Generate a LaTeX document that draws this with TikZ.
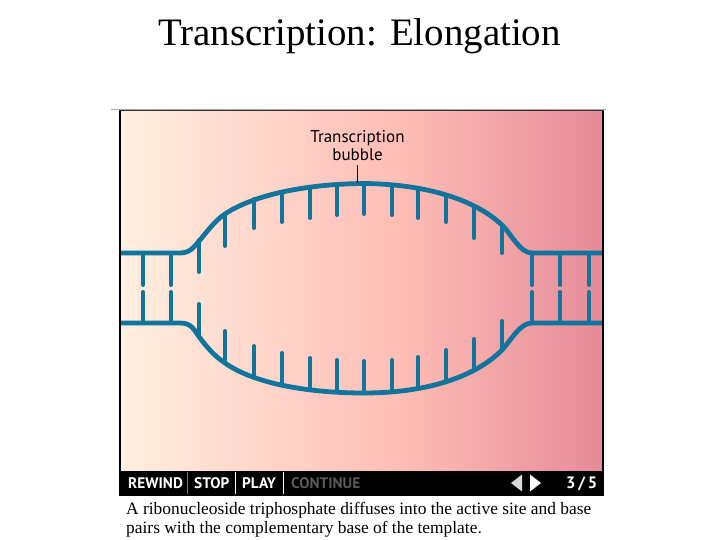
\documentclass[tikz,border=0pt]{standalone}
\usepackage{fontspec}
\setmainfont{Liberation Serif}
\newfontfamily\labelfont{PT Sans}
\newfontfamily\barfont{PT Sans}
\definecolor{strandc}{HTML}{10749C}
\definecolor{gradA}{HTML}{FFEFE0}
\definecolor{gradB}{HTML}{FFBDB5}
\definecolor{gradC}{HTML}{E58B99}
\tikzset{
  strand/.style={draw=strandc,line width=4.8pt,line cap=butt,line join=round},
  basetick/.style={draw=strandc,line width=4pt,line cap=round},
  ctl/.style={inner sep=0pt,anchor=base west,text=white,font=\barfont\bfseries\fontsize{15.3}{16}\selectfont},
  sep/.style={draw=white,line width=1pt},
}
\begin{document}
\begin{tikzpicture}[x=1pt,y=-1pt]
\useasboundingbox (0,0) rectangle (720,540);
\fill[white] (0,0) rectangle (720,540);
\node (title) at (359.5,36.5) {\fontsize{38.9}{42}\selectfont Transcription: Elongation};
\draw[black!35,line width=.8pt] (111,109.8) -- (606,109.8);
% panel
\shade[left color=gradA,right color=gradB] (120,111) rectangle (400,471);
\shade[left color=gradB,right color=gradC] (400,111) rectangle (602,471);
% strands
\draw[strand] (120,253) -- (180,253) .. controls (190,253) and (194,247) .. (200,240) .. controls (209,229) and (216,220) .. (225,214) .. controls (250,197) and (300,184) .. (364,183.5) .. controls (420,184) and (472,197) .. (502,225) .. controls (512,235) and (520,253) .. (532,253) -- (602,253);
\draw[strand] (120,323) -- (180,323) .. controls (192,323) and (194,330) .. (200,338) .. controls (209,350) and (216,357) .. (225,363) .. controls (250,381) and (300,393) .. (364,393) .. controls (420,393) and (472,380) .. (502,350) .. controls (512,339) and (520,323) .. (532,323) -- (602,323);
% upper ticks
\foreach \x/\a/\b in {143/253/285,171/253/285,199/240/272,225/214/246,254/199/228,282/192/222,310/187/218,337/185/215,364/184/214,392/185/215,418/188/218,446/195/222,474/206/238,502/226/253,532/253/285,560/253/285,589/253/285}
  \draw[basetick] (\x,\a) -- (\x,\b);
% lower ticks
\foreach \x/\a/\b in {143/292/323,171/292/323,199/304/337,225/331/363,254/346/378,282/353/385,310/358/390,337/360/392,364/361/393,392/360/392,418/357/388,446/350/381,474/339/369,502/321/349,532/292/323,560/292/323,589/292/323}
  \draw[basetick] (\x,\a) -- (\x,\b);
% frame
\draw[black,line width=2pt] (119.5,111) -- (119.5,472);
\draw[black,line width=2pt] (603,111) -- (603,472);
\draw[black!80,line width=1pt] (119,111) -- (604,111);
% label
\node[align=center,inner sep=0pt,font=\labelfont\fontsize{17}{18}\selectfont] (bubble) at (357.5,146) {Transcription\\bubble};
\coordinate (apex) at (357.5,183);
\draw[black,line width=.6pt] (357.5,165) -- (apex);
% control bar
\fill[black] (119,471) rectangle (604,495.5);
\node[ctl] (rew) at (128,488) {REWIND};
\node[ctl] (stp) at (194,488) {STOP};
\node[ctl] (ply) at (242,488) {PLAY};
\node[ctl,text=black!65] (con) at (291,488) {CONTINUE};
\draw[black!55,line width=1pt] (187.5,472) -- (187.5,494);
\draw[sep] (235.5,472) -- (235.5,494);
\draw[sep] (283.5,472) -- (283.5,494);
\fill[white!85!black] (522,474.5) -- (522,491.5) -- (511,483) -- cycle;
\fill[white] (530,474.5) -- (530,491.5) -- (541,483) -- cycle;
\node[ctl,font=\barfont\bfseries\fontsize{16.5}{17}\selectfont] (cnt) at (566,488) {3\,/\,5};
% caption
\node[anchor=base west,inner sep=0pt,font=\fontsize{17.4}{18}\selectfont] (cap1) at (126,514) {A ribonucleoside triphosphate diffuses into the active site and base};
\node[anchor=base west,inner sep=0pt,font=\fontsize{17.4}{18}\selectfont] (cap2) at (126,533) {pairs with the complementary base of the template.};
\end{tikzpicture}
\end{document}
